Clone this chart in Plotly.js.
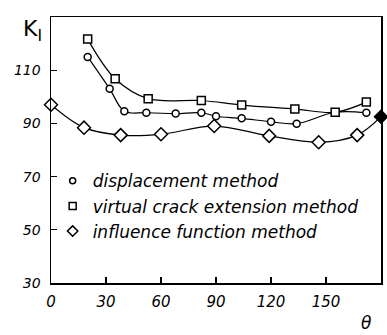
<!DOCTYPE html>
<html>
<head>
<meta charset="utf-8">
<script src="https://cdn.plot.ly/plotly-3.0.1.min.js"></script>
<style>html,body{margin:0;padding:0;background:#fff;}#chart{width:387px;height:335px;}</style>
</head>
<body>
<div id="chart"></div>
<script>
// Data
const thetaDisp = [20, 32, 40, 52, 68, 82, 90, 104, 120, 134, 155, 172];
const kDisp     = [115, 103, 94.6, 94, 93.7, 94, 92.7, 91.9, 90.6, 89.9, 94.2, 94];

const thetaVCE = [20, 35, 53, 82, 104, 133, 155, 172];
const kVCE     = [121.7, 106.8, 99.3, 98.6, 96.9, 95.4, 94.2, 98];

const thetaIF = [0, 18, 38, 60, 89, 119, 146, 167, 180];
const kIF     = [97, 88.4, 85.6, 85.9, 89, 85.3, 82.9, 85.6, 92.5];

const seriesNames = ["displacement method", "virtual crack extension method", "influence function method"];
const xTicks = [0, 30, 60, 90, 120, 150, 180];
const yTicks = [30, 50, 70, 90, 110];

const handFont = "DejaVu Sans";
const lineStyle = {color: "black", width: 1.2, shape: "spline", smoothing: 1};

const traces = [
  {x: thetaDisp, y: kDisp, mode: "lines+markers", line: lineStyle, showlegend: false,
   marker: {symbol: "circle", size: 7, color: "white", line: {color: "black", width: 1.5}}},
  {x: thetaVCE, y: kVCE, mode: "lines+markers", line: lineStyle, showlegend: false,
   marker: {symbol: "square", size: 8, color: "white", line: {color: "black", width: 1.5}}},
  {x: thetaIF, y: kIF, mode: "lines+markers", line: lineStyle, showlegend: false, cliponaxis: false,
   marker: {symbol: "diamond", size: 10,
            color: thetaIF.map((t, i) => i === thetaIF.length - 1 ? "black" : "white"),
            line: {color: "black", width: 1.5}}},
  // legend entries (markers only)
  {x: [null], y: [null], mode: "markers", name: seriesNames[0],
   marker: {symbol: "circle", size: 6, color: "white", line: {color: "black", width: 1.5}}},
  {x: [null], y: [null], mode: "markers", name: seriesNames[1],
   marker: {symbol: "square", size: 7, color: "white", line: {color: "black", width: 1.5}}},
  {x: [null], y: [null], mode: "markers", name: seriesNames[2],
   marker: {symbol: "diamond", size: 8, color: "white", line: {color: "black", width: 1.5}}}
];

const layout = {
  width: 387, height: 335,
  margin: {l: 51, r: 6, t: 17, b: 52},
  paper_bgcolor: "white", plot_bgcolor: "white",
  font: {family: handFont, color: "black", size: 14},
  xaxis: {
    range: [0, 180], tickvals: xTicks, ticktext: xTicks.map(String),
    ticks: "inside", ticklen: 6, tickwidth: 1.2, tickcolor: "black",
    showline: true, linecolor: "black", linewidth: 1.5, mirror: true,
    showgrid: false, zeroline: false,
    tickfont: {family: handFont, size: 15, style: "italic"},
    ticklabelstandoff: 4
  },
  yaxis: {
    range: [30, 130], tickvals: yTicks, ticktext: yTicks.map(String),
    ticks: "inside", ticklen: 6, tickwidth: 1.2, tickcolor: "black",
    showline: true, linecolor: "black", linewidth: 1.5, mirror: true,
    showgrid: false, zeroline: false,
    tickfont: {family: handFont, size: 14, style: "italic"},
    ticklabelstandoff: 6
  },
  legend: {
    x: 0.005, y: 0.45, xanchor: "left", yanchor: "top",
    bgcolor: "rgba(0,0,0,0)", borderwidth: 0,
    font: {family: handFont, size: 17, style: "italic"},
    itemwidth: 30, tracegroupgap: 0
  },
  annotations: [
    {text: "K<sub>I</sub>", xref: "paper", yref: "paper", x: -0.055, y: 0.95,
     xanchor: "center", yanchor: "middle", showarrow: false,
     font: {family: handFont, size: 22}},
    {text: "θ", xref: "paper", yref: "paper", x: 0.955, y: -0.15,
     xanchor: "center", yanchor: "middle", showarrow: false,
     font: {family: handFont, size: 17, style: "italic"}}
  ]
};

Plotly.newPlot("chart", traces, layout, {displayModeBar: false, staticPlot: true});
</script>
</body>
</html>
